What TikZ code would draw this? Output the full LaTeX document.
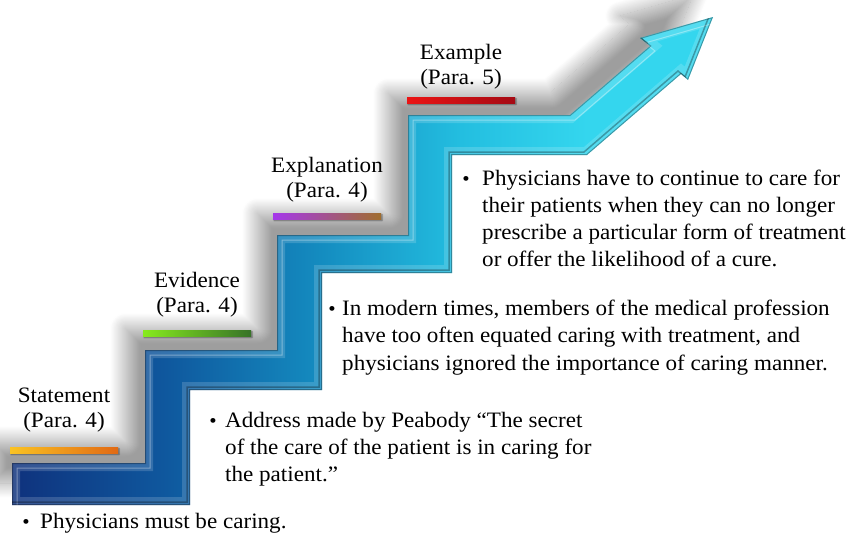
\documentclass[tikz,border=0pt]{standalone}
\usepackage{fontspec}
\setmainfont[FakeStretch=1.05]{Liberation Serif}
\usetikzlibrary{%
  shadows.blur,% soft shadows
  positioning% wg. " of "
}

\definecolor{stairA}{RGB}{15,50,125}
\definecolor{stairB}{RGB}{15,88,158}
\definecolor{stairC}{RGB}{20,140,192}
\definecolor{stairD}{RGB}{35,190,224}
\definecolor{stairE}{RGB}{52,214,238}
\definecolor{stmtA}{RGB}{250,195,35}
\definecolor{stmtB}{RGB}{225,105,20}
\definecolor{evidA}{RGB}{135,235,30}
\definecolor{evidB}{RGB}{55,115,40}
\definecolor{explA}{RGB}{165,55,235}
\definecolor{explB}{RGB}{160,110,45}
\definecolor{exmpA}{RGB}{235,20,20}
\definecolor{exmpB}{RGB}{165,10,20}

\pgfdeclarehorizontalshading{stairs}{100bp}{color(0bp)=(stairA); color(25bp)=(stairA);
  color(36bp)=(stairB); color(47bp)=(stairC); color(57bp)=(stairD); color(66bp)=(stairE);
  color(100bp)=(stairE)}

\newcommand{\stairpath}{(12,505) -- (12,463) -- (145,463) -- (145,350) -- (277,350)
  -- (277,235) -- (408,235) -- (408,115) -- (570,115) -- (650,46) -- (640,38)
  -- (713,17) -- (688,80) -- (681,74) -- (587,155) -- (452,155) -- (452,273)
  -- (322,273) -- (322,390) -- (190,390) -- (190,505) -- cycle}

\begin{document}
\begin{tikzpicture}
[x=1pt, y=-1pt, font=\fontsize{22}{25}\selectfont,
bar/.style={rectangle, inner sep=0pt, minimum width=108pt, minimum height=6pt,
  blur shadow={shadow xshift=1pt, shadow yshift=-1.5pt, shadow blur radius=1.5pt, shadow opacity=45}},
lbl/.style={align=center, inner sep=0pt},
txt/.style={anchor=base west, inner sep=0pt},
dot/.style={anchor=base, inner sep=0pt, font=\fontsize{20}{20}\selectfont}]

\useasboundingbox (0,0) rectangle (860,541);

% staircase arrow with soft shadow
\shade[shading=stairs, blur shadow={shadow xshift=-20pt, shadow yshift=22pt,
  shadow blur radius=15pt, shadow blur steps=30, shadow opacity=38}] \stairpath;
\begin{scope}
  \clip \stairpath;
  \draw[white, opacity=.16, line width=16pt, line join=miter] \stairpath;
  \draw[white, opacity=.35, line width=1pt, line join=miter, xshift=5pt, yshift=-5pt] \stairpath;
  \draw[black, opacity=.3, line width=1.5pt, line join=miter, xshift=-3pt, yshift=3pt] \stairpath;
  \draw[black, opacity=.3, line width=2pt, line join=miter] \stairpath;
\end{scope}

% coloured bars and step labels
\foreach \nm/\x/\y in {stmt/64/450, evid/197/333, expl/327/216, exmp/461/100} {
  \node[bar, left color=\nm A, right color=\nm B] (\nm bar) at (\x,\y) {};
}
\node[lbl, above=14pt of stmtbar] (stmt) {Statement\\(Para. 4)};
\node[lbl, above=12pt of evidbar] (evid) {Evidence\\(Para. 4)};
\node[lbl, above=10pt of explbar] (expl) {Explanation\\(Para. 4)};
\node[lbl, above=7pt of exmpbar] (exmp) {Example\\(Para. 5)};

% bullet points
\node[dot] (dot1) at (26,528) {•};
\node[txt] (pts1) at (40,528) {Physicians must be caring.};

\node[dot] (dot2) at (213,427) {•};
\foreach \t [count=\i from 0] in {{Address made by Peabody ``The secret},
  {of the care of the patient is in caring for}, {the patient.''}}
  \node[txt] (pts2l\i) at (225,427+27*\i) {\t};

\node[dot] (dot3) at (332,315) {•};
\foreach \t [count=\i from 0] in {{In modern times, members of the medical profession},
  {have too often equated caring with treatment, and},
  {physicians ignored the importance of caring manner.}}
  \node[txt] (pts3l\i) at (342,315+27.5*\i) {\t};

\node[dot] (dot4) at (466,185) {•};
\foreach \t [count=\i from 0] in {{Physicians have to continue to care for},
  {their patients when they can no longer}, {prescribe a particular form of treatment},
  {or offer the likelihood of a cure.}}
  \node[txt] (pts4l\i) at (482,185+27*\i) {\t};
\end{tikzpicture}
\end{document}
